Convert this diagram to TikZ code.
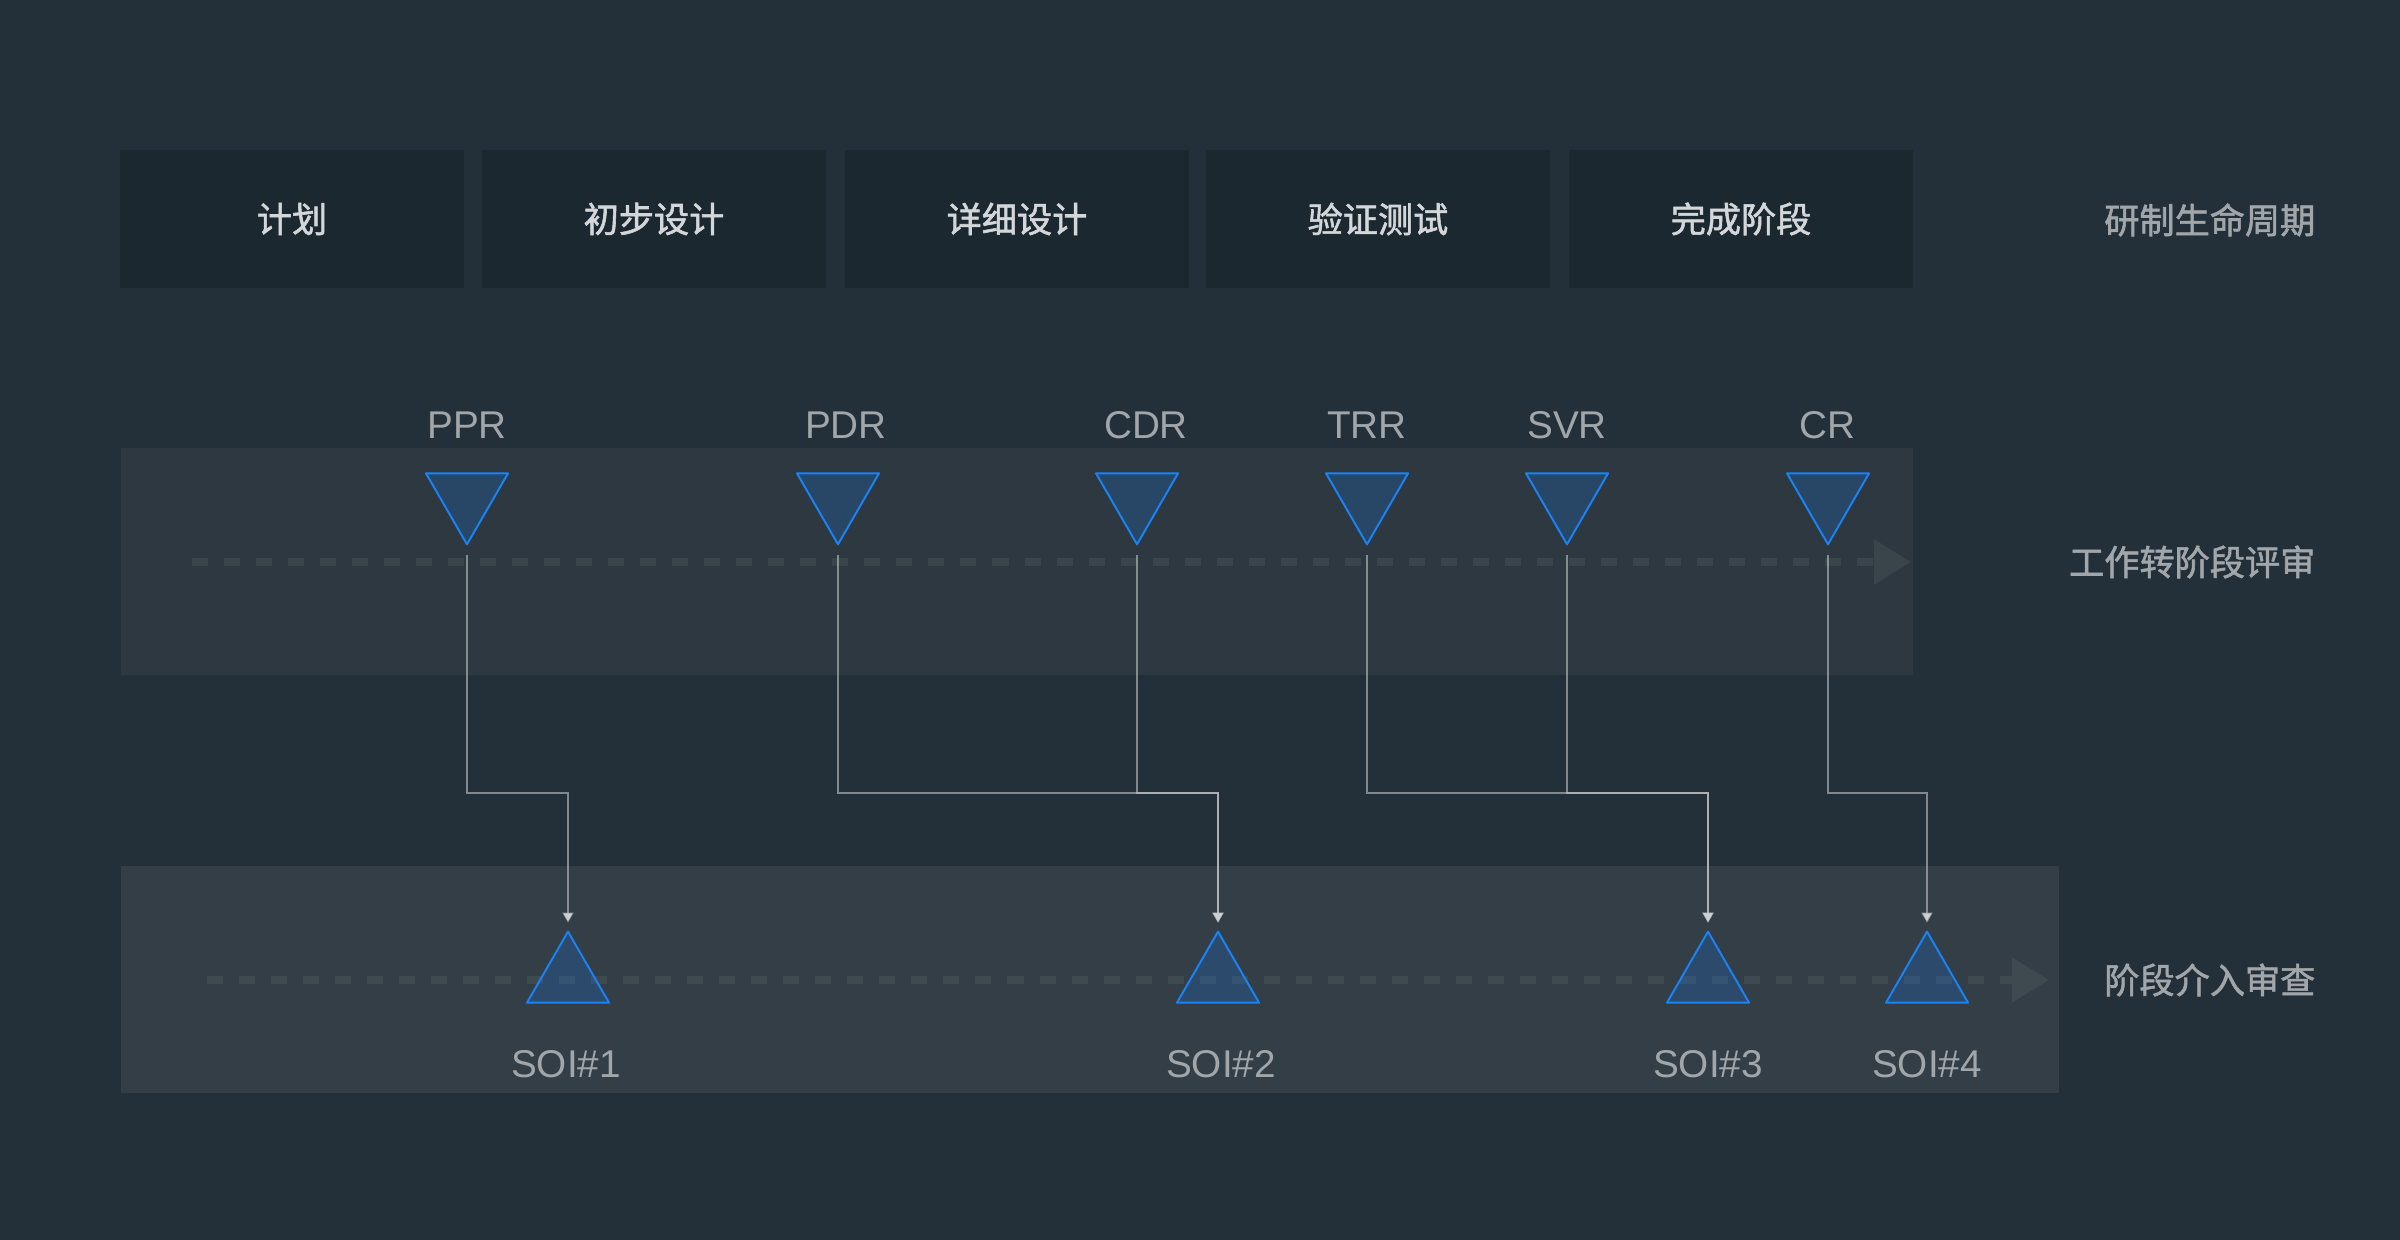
\documentclass[tikz,border=0pt]{standalone}
\usepackage{fontspec}
\setmainfont{Liberation Sans}
\newfontfamily\cjk[FakeBold=1.6]{Noto Sans CJK SC}
\usepackage{tikz}
\usetikzlibrary{arrows.meta,shapes.geometric,positioning}

\definecolor{bgcol}{HTML}{243039}
\definecolor{phasecol}{HTML}{1B2830}
\definecolor{bandone}{HTML}{2E3840}
\definecolor{bandtwo}{HTML}{343E46}
\definecolor{dashone}{HTML}{3A444B}
\definecolor{dashtwo}{HTML}{3F4950}
\definecolor{trifill}{HTML}{1478F0}
\definecolor{triline}{HTML}{1A84F7}
\definecolor{labelcol}{HTML}{A0A6AA}
\definecolor{phasetext}{HTML}{D4D7D9}
\definecolor{linkcol}{HTML}{CDD1D3}

\begin{document}
\begin{tikzpicture}
	[
		x=0.01cm, y=-0.01cm,
		every node/.style = {font=\fontsize{11pt}{13pt}\selectfont, text=labelcol},
		phase/.style = {fill=phasecol, minimum width=3.43cm, minimum height=1.38cm, inner sep=0pt,
			font=\cjk\fontsize{10pt}{12pt}\selectfont, text=phasetext},
		rowname/.style = {anchor=east, inner sep=0pt, font=\cjk\fontsize{10pt}{12pt}\selectfont},
		gate/.style = {regular polygon, regular polygon sides=3, shape border rotate=180, inner sep=0pt,
			minimum size=0.947cm, draw=triline, fill=trifill, fill opacity=0.22, draw opacity=1,
			line width=0.55pt, line join=round},
		soi/.style = {gate, shape border rotate=0},
		link/.style = {draw=linkcol, draw opacity=0.55, line width=0.45pt, shorten <=0.09cm, shorten >=0.07cm,
			-{Triangle[length=0.1cm,width=0.11cm]}},
		timeline/.style = {line width=0.08cm, dash pattern=on 0.16cm off 0.16cm,
			-{Triangle[length=0.37cm,width=0.43cm]}},
	]

  \fill[bgcol] (0,0) rectangle (2400,1240);
  \useasboundingbox (0,0) rectangle (2400,1240);

  % lifecycle phases
  \node[phase] (plan) at (292,219) {计划};
  \node[phase] (prelim) at (654,219) {初步设计};
  \node[phase] (detail) at (1017,219) {详细设计};
  \node[phase] (verify) at (1378,219) {验证测试};
  \node[phase] (finish) at (1741,219) {完成阶段};

  \node[rowname] (lifecycle) at (2316,220) {研制生命周期};
  \node[rowname] (reviews) at (2316,562) {工作转阶段评审};
  \node[rowname] (entries) at (2316,980) {阶段介入审查};

  % bands with time lines
  \fill[bandone] (121,448) rectangle (1913,675);
  \fill[bandtwo] (121,866) rectangle (2059,1093);
  \draw[timeline, dashone] (192,562) -- (1911,562);
  \draw[timeline, dashtwo] (207,980) -- (2049,980);

  % phase reviews
  \node[gate] (ppr) at (467,497) {};
  \node[gate] (pdr) at (838,497) {};
  \node[gate] (cdr) at (1137,497) {};
  \node[gate] (trr) at (1367,497) {};
  \node[gate] (svr) at (1567,497) {};
  \node[gate] (cr) at (1828,497) {};

  \node (pprl) at (467,425) {PPR};
  \node (pdrl) at (846,425) {PDR};
  \node (cdrl) at (1146,425) {CDR};
  \node (trrl) at (1367,425) {TRR};
  \node (svrl) at (1567,425) {SVR};
  \node (crl) at (1827,425) {CR};

  % stages of involvement
  \node[soi] (soi1) at (568,979) {};
  \node[soi] (soi2) at (1218,979) {};
  \node[soi] (soi3) at (1708,979) {};
  \node[soi] (soi4) at (1927,979) {};

  \node (soi1l) at (566,1064) {SOI\#1};
  \node (soi2l) at (1221,1064) {SOI\#2};
  \node (soi3l) at (1708,1064) {SOI\#3};
  \node (soi4l) at (1927,1064) {SOI\#4};

  \coordinate (j1) at (568,793);
  \coordinate (j2) at (1218,793);
  \coordinate (j3) at (1708,793);
  \coordinate (j4) at (1927,793);

  \draw[link] (ppr.corner 1) |- (j1) -- (soi1.corner 1);
  \draw[link] (pdr.corner 1) |- (j2) -- (soi2.corner 1);
  \draw[link] (cdr.corner 1) |- (j2) -- (soi2.corner 1);
  \draw[link] (trr.corner 1) |- (j3) -- (soi3.corner 1);
  \draw[link] (svr.corner 1) |- (j3) -- (soi3.corner 1);
  \draw[link] (cr.corner 1) |- (j4) -- (soi4.corner 1);

\end{tikzpicture}
\end{document}
